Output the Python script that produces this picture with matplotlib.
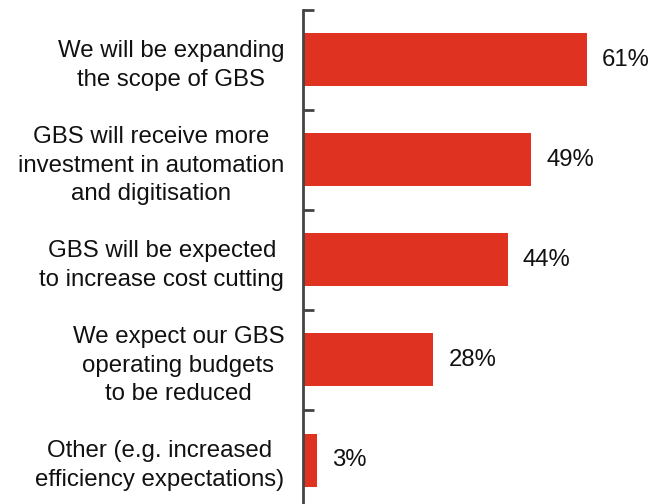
import matplotlib
matplotlib.use("Agg")
import matplotlib.pyplot as plt

categories = [
    "We will be expanding\nthe scope of GBS",
    "GBS will receive more\ninvestment in automation\nand digitisation",
    "GBS will be expected\nto increase cost cutting",
    "We expect our GBS\noperating budgets\nto be reduced",
    "Other (e.g. increased\nefficiency expectations)",
]
values = [61, 49, 44, 28, 3]
value_labels = ["61%", "49%", "44%", "28%", "3%"]

plt.rcParams['font.family'] = ['Liberation Sans', 'DejaVu Sans']

W, H = 668, 504
fig = plt.figure(figsize=(W / 100, H / 100), dpi=100)
px_per_unit = 4.656
xmax = 70
left = 303
top = 10
bottom = 510
ax = fig.add_axes([left / W, 1 - bottom / H, xmax * px_per_unit / W, (bottom - top) / H])

n = len(categories)
ypos = list(range(n))
color = "#E03220"
ax.barh(ypos, values, height=0.53, color=color, zorder=2)
ax.set_ylim(n - 0.5, -0.5)
ax.set_xlim(0, xmax)

for y, v, lab in zip(ypos, values, value_labels):
    ax.text(v + 15 / px_per_unit, y, lab, va="center", ha="left", fontsize=17.2, color="#111111")

ax.set_yticks([i - 0.5 for i in range(n + 1)])
ax.set_yticklabels([])
ax.tick_params(axis="y", direction="in", length=8, width=2, color="#444444", left=True)
ax.set_yticks(ypos, minor=True)
ax.set_yticklabels(categories, minor=True, fontsize=17.3, color="#111111", ha="right", multialignment="center")
ax.tick_params(axis="y", which="minor", length=0, pad=13.5)
ax.set_xticks([])
for s in ["top", "right", "bottom"]:
    ax.spines[s].set_visible(False)
ax.spines["left"].set_color("#444444")
ax.spines["left"].set_linewidth(2)
for t in ax.get_yticklabels(minor=True):
    t.set_linespacing(1.37)

fig.savefig("out.png", dpi=100)
